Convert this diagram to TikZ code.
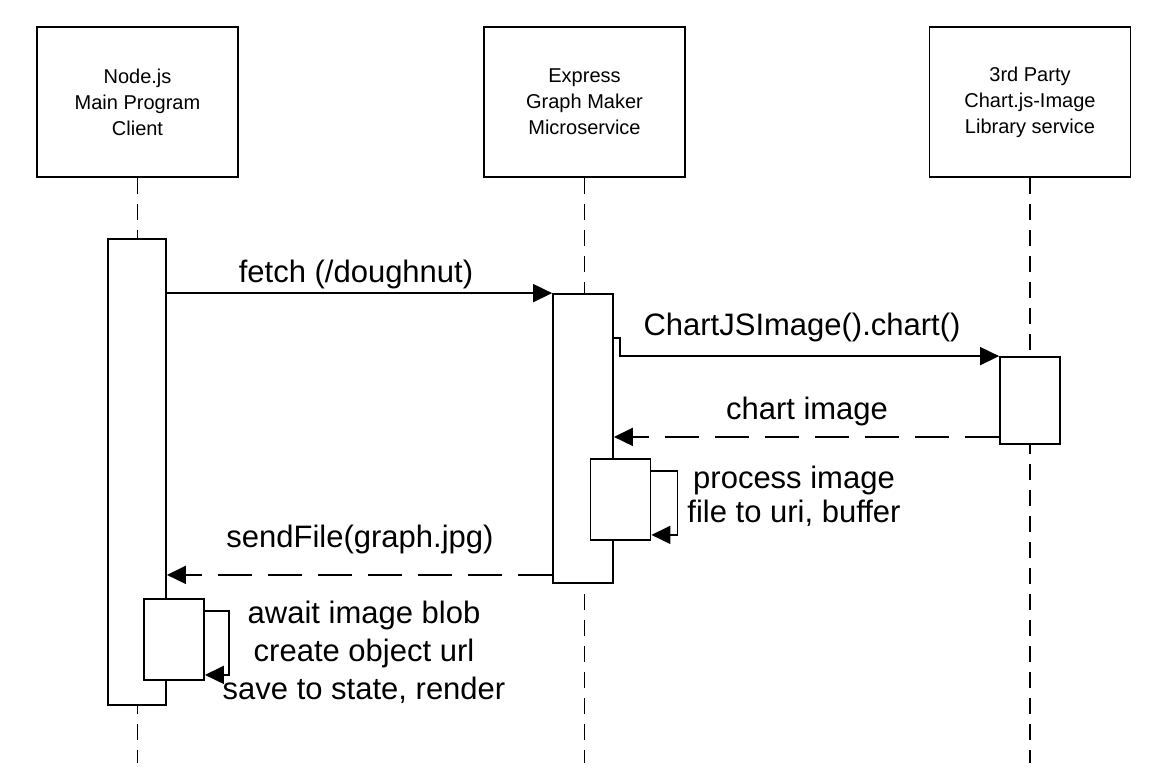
\documentclass[tikz,border=0pt]{standalone}
\usepackage{fontspec}
\setmainfont{Liberation Sans}
\usetikzlibrary{arrows.meta,positioning}

\begin{document}
\begin{tikzpicture}[x=1pt, y=-1pt,
	actor/.style = { draw, line width=1.8pt, minimum width=201pt,
			minimum height=150pt, align=center,
			font=\fontsize{20}{26}\selectfont },
	bar/.style = { draw, line width=1.8pt, fill=white, inner sep=0pt,
			minimum width=60pt },
	lifeline/.style = { line width=1.8pt, dash pattern=on 16pt off 10pt },
	msg/.style = { line width=1.8pt, -{Triangle[length=19pt, width=18pt]} },
	reply/.style = { msg, dash pattern=on 34pt off 16pt },
	msgstr/.style = { anchor=base, inner sep=0pt, align=center,
			font=\fontsize{31}{38}\selectfont }]

  \useasboundingbox (0,0) rectangle (1172,780);

  \draw (137.5,102) node[name=client, actor]{Node.js\\Main Program\\Client};
  \draw (584.5,102) node[name=express, actor]{Express\\Graph Maker\\Microservice};
  \draw (1030,102) node[name=party, actor]{3rd Party\\Chart.js-Image\\Library service};
  \draw [lifeline] (client.south) -- ++(0,585);
  \draw [lifeline] (express.south) -- ++(0,585);
  \draw [lifeline] (party.south) -- ++(0,585);

  \node[name=cbar, bar, minimum width=58pt, minimum height=466pt] at (137,472) {};
  \node[name=ebar, bar, minimum height=289pt] at (583,438.5) {};
  \node[name=pbar, bar, minimum height=87pt] at (1030,400.5) {};

  \draw [msg] (cbar.east |- ebar.north) -- (ebar.north west);
  \node[name=fetchstr, msgstr] at (356,282) {fetch (/doughnut)};

  \draw [msg] ([yshift=-45pt]ebar.north east) -- ++(6,0) |- (pbar.north west);
  \node[name=chartstr, msgstr] at (802,335) {ChartJSImage().chart()};

  \coordinate (imgback) at ([yshift=8pt]pbar.south west);
  \draw [reply] (imgback) -- (ebar.east |- imgback);
  \node[name=imagestr, msgstr] at (807,419) {chart image};

  \node[name=eself, bar, minimum height=81pt] at (620.5,499.5) {};
  \draw [msg] ([yshift=-13pt]eself.north east) -- ++(26,0)
	|- ([yshift=6pt]eself.south east);
  \node[name=processstr, msgstr, font=\fontsize{31}{34}\selectfont]
	at (794,522) {process image\\file to uri, buffer};

  \coordinate (fileback) at ([yshift=9pt]ebar.south west);
  \draw [reply] (fileback) -- (cbar.east |- fileback);
  \node[name=sendstr, msgstr] at (360,547) {sendFile(graph.jpg)};

  \node[name=cself, bar, minimum height=81pt] at (174,639.5) {};
  \draw [msg] ([yshift=-13pt]cself.north east) -- ++(24,0)
	|- ([yshift=6pt]cself.south east);
  \node[name=awaitstr, msgstr] at (364,699)
	{await image blob\\create object url\\save to state, render};
\end{tikzpicture}
\end{document}
